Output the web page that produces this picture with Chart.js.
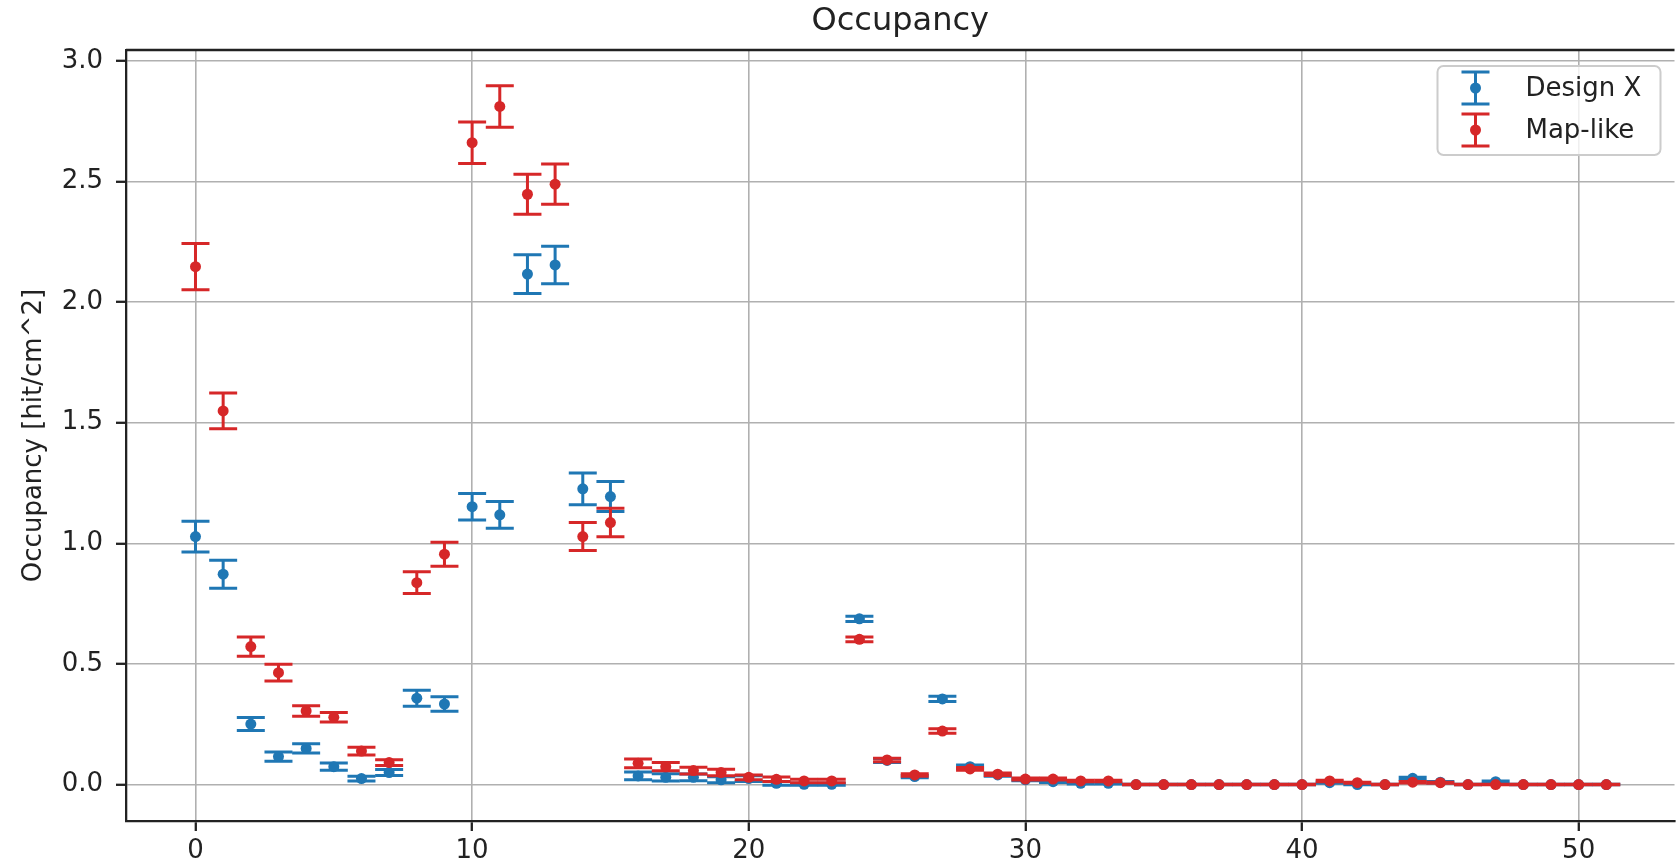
<!DOCTYPE html>
<html>
<head>
<meta charset="utf-8">
<title>Occupancy</title>
<script src="https://cdn.jsdelivr.net/npm/chart.js@4/dist/chart.umd.min.js"></script>
<style>
  html, body { margin: 0; padding: 0; background: #fff; overflow: hidden; }
  #wrap { width: 1680px; height: 865px; }
</style>
</head>
<body>
<div id="wrap"><canvas id="occChart" width="1680" height="865"></canvas></div>
<script>
// layer / bin index on the x axis
var layerIndex = [0, 1, 2, 3, 4, 5, 6, 7, 8, 9, 10, 11, 12, 13, 14, 15, 16, 17, 18, 19, 20, 21, 22, 23, 24, 25,
                  26, 27, 28, 29, 30, 31, 32, 33, 34, 35, 36, 37, 38, 39, 40, 41, 42, 43, 44, 45, 46, 47, 48, 49, 50, 51];

// occupancy in hit/cm^2 and its uncertainty
var designX = [1.028, 0.872, 0.251, 0.116, 0.150, 0.074, 0.025, 0.050, 0.358, 0.334, 1.152, 1.118, 2.116, 2.154, 1.226, 1.194,
               0.036, 0.030, 0.030, 0.020, 0.025, 0.005, 0.001, 0.001,
               0.687, 0.100, 0.033, 0.355, 0.074, 0.040, 0.020, 0.012, 0.005, 0.005,
               0.0, 0.0, 0.0, 0.0, 0.0, 0.0, 0.0,
               0.008, 0.0, 0.0, 0.026, 0.010, 0.0, 0.012, 0.0, 0.0, 0.0, 0.0];
var designXErr = [0.064, 0.058, 0.027, 0.019, 0.019, 0.015, 0.010, 0.012, 0.033, 0.030, 0.055, 0.055, 0.080, 0.078, 0.066, 0.062,
                  0.016, 0.015, 0.014, 0.012, 0.012, 0.008, 0.004, 0.004,
                  0.011, 0.008, 0.005, 0.011, 0.007, 0.005, 0.004, 0.003, 0.003, 0.003,
                  0.001, 0.001, 0.001, 0.001, 0.001, 0.001, 0.001,
                  0.003, 0.001, 0.001, 0.004, 0.003, 0.001, 0.003, 0.001, 0.001, 0.001, 0.001];

var mapLike = [2.147, 1.549, 0.572, 0.464, 0.305, 0.279, 0.139, 0.091, 0.837, 0.955, 2.661, 2.811, 2.447, 2.489, 1.028, 1.086,
               0.088, 0.074, 0.058, 0.050, 0.030, 0.022, 0.015, 0.015,
               0.602, 0.102, 0.040, 0.222, 0.065, 0.043, 0.023, 0.023, 0.015, 0.015,
               0.0, 0.0, 0.0, 0.0, 0.0, 0.0, 0.0,
               0.015, 0.008, 0.0, 0.010, 0.008, 0.0, 0.0, 0.0, 0.0, 0.0, 0.0];
var mapLikeErr = [0.096, 0.074, 0.040, 0.035, 0.022, 0.020, 0.016, 0.012, 0.045, 0.050, 0.086, 0.086, 0.083, 0.083, 0.058, 0.059,
                  0.018, 0.017, 0.014, 0.013, 0.010, 0.009, 0.007, 0.007,
                  0.010, 0.007, 0.005, 0.009, 0.006, 0.005, 0.004, 0.004, 0.003, 0.003,
                  0.001, 0.001, 0.001, 0.001, 0.001, 0.001, 0.001,
                  0.003, 0.002, 0.001, 0.003, 0.002, 0.001, 0.001, 0.001, 0.001, 0.001, 0.001];

var xTicks = [0, 10, 20, 30, 40, 50];
var yTicks = [0, 0.5, 1.0, 1.5, 2.0, 2.5, 3.0];

var FONT = "'DejaVu Sans', sans-serif";
var TEXT = "#222222";
var BLUE = "#1f77b4";
var RED = "#d62728";
var CAP = 14;

function points(ys) {
    return layerIndex.map(function (x, i) { return { x: x, y: ys[i] }; });
}

// vertical error bars with caps, drawn just before each dataset's markers
var errorBars = {
    id: "errorBars",
    beforeDatasetDraw: function (chart, args) {
        var ds = chart.data.datasets[args.index];
        var yScale = chart.scales.y;
        var ctx = chart.ctx;
        ctx.save();
        ctx.strokeStyle = ds.backgroundColor;
        ctx.lineWidth = 3;
        args.meta.data.forEach(function (pt, i) {
            var v = ds.data[i].y, e = ds.errors[i];
            var top = yScale.getPixelForValue(v + e);
            var bot = yScale.getPixelForValue(v - e);
            ctx.beginPath();
            ctx.moveTo(pt.x, top); ctx.lineTo(pt.x, bot);
            ctx.moveTo(pt.x - CAP, top); ctx.lineTo(pt.x + CAP, top);
            ctx.moveTo(pt.x - CAP, bot); ctx.lineTo(pt.x + CAP, bot);
            ctx.stroke();
        });
        ctx.restore();
    }
};

// title, top spine and the legend box
var decorations = {
    id: "decorations",
    afterDraw: function (chart) {
        var ctx = chart.ctx, a = chart.chartArea;
        ctx.save();
        ctx.strokeStyle = TEXT;
        ctx.lineWidth = 2.3;
        ctx.beginPath();
        ctx.moveTo(a.left, a.top); ctx.lineTo(a.right, a.top);
        ctx.stroke();

        ctx.fillStyle = TEXT;
        ctx.font = "32px " + FONT;
        ctx.textAlign = "center";
        ctx.textBaseline = "middle";
        ctx.fillText("Occupancy", (a.left + a.right) / 2, 22);

        // legend
        var bw = 223, bh = 89;
        var bx = a.right - 14 - bw, by = a.top + 16;
        ctx.beginPath();
        ctx.roundRect(bx, by, bw, bh, 6);
        ctx.fillStyle = "rgba(255,255,255,0.8)";
        ctx.fill();
        ctx.strokeStyle = "#cccccc";
        ctx.lineWidth = 2;
        ctx.stroke();

        ctx.font = "26px " + FONT;
        ctx.textAlign = "left";
        chart.data.datasets.forEach(function (ds, i) {
            var cy = by + 22 + i * 42, cx = bx + 38;
            ctx.strokeStyle = ds.backgroundColor;
            ctx.lineWidth = 3;
            ctx.beginPath();
            ctx.moveTo(cx, cy - 16); ctx.lineTo(cx, cy + 16);
            ctx.moveTo(cx - CAP, cy - 16); ctx.lineTo(cx + CAP, cy - 16);
            ctx.moveTo(cx - CAP, cy + 16); ctx.lineTo(cx + CAP, cy + 16);
            ctx.stroke();
            ctx.fillStyle = ds.backgroundColor;
            ctx.beginPath();
            ctx.arc(cx, cy, 5.5, 0, Math.PI * 2);
            ctx.fill();
            ctx.fillStyle = TEXT;
            ctx.fillText(ds.label, bx + 88, cy + 1);
        });
        ctx.restore();
    }
};

var config = {
    type: "scatter",
    data: {
        datasets: [
            {
                label: "Design X",
                data: points(designX),
                errors: designXErr,
                backgroundColor: BLUE,
                pointRadius: 5.5,
                pointBorderWidth: 0,
                order: 2
            },
            {
                label: "Map-like",
                data: points(mapLike),
                errors: mapLikeErr,
                backgroundColor: RED,
                pointRadius: 5.5,
                pointBorderWidth: 0,
                order: 1
            }
        ]
    },
    options: {
        responsive: false,
        animation: false,
        events: [],
        devicePixelRatio: 1,
        layout: { padding: { top: 50, left: 0, right: 0, bottom: 0 } },
        plugins: {
            legend: { display: false },
            title: { display: false },
            tooltip: { enabled: false }
        },
        scales: {
            x: {
                type: "linear",
                min: -2.512,
                max: 53.465,
                afterBuildTicks: function (scale) {
                    scale.ticks = xTicks.map(function (v) { return { value: v }; });
                },
                afterFit: function (scale) { scale.height = 44; },
                grid: { color: "#b0b0b0", lineWidth: 1.6, tickLength: 10, tickColor: TEXT, tickWidth: 2.3 },
                border: { color: TEXT, width: 2.3 },
                ticks: {
                    padding: 5,
                    color: TEXT,
                    font: { family: FONT, size: 26 },
                    maxRotation: 0,
                    callback: function (v) { return String(v); }
                }
            },
            y: {
                type: "linear",
                min: -0.151,
                max: 3.045,
                afterBuildTicks: function (scale) {
                    scale.ticks = yTicks.map(function (v) { return { value: v }; });
                },
                afterFit: function (scale) { scale.width = 126; },
                grid: { color: "#b0b0b0", lineWidth: 1.6, tickLength: 10, tickColor: TEXT, tickWidth: 2.3 },
                border: { color: TEXT, width: 2.3 },
                title: {
                    display: true,
                    text: "Occupancy [hit/cm^2]",
                    color: TEXT,
                    font: { family: FONT, size: 26 },
                    padding: { top: 19, bottom: 0 }
                },
                ticks: {
                    padding: 13,
                    color: TEXT,
                    font: { family: FONT, size: 26 },
                    callback: function (v) { return v.toFixed(1); }
                }
            }
        }
    },
    plugins: [errorBars, decorations]
};

var occChart = new Chart(document.getElementById("occChart"), config);
</script>
</body>
</html>
